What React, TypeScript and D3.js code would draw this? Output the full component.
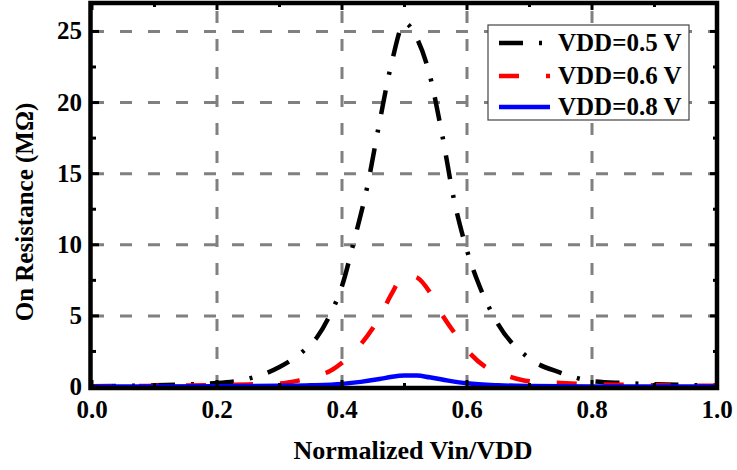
import React, { useEffect, useRef } from 'react';
import * as d3 from 'd3';

// values
const vdd05X = [0, 0.1, 0.2, 0.25, 0.3, 0.34, 0.36, 0.38, 0.4, 0.42, 0.44, 0.46, 0.48, 0.5, 0.52, 0.54, 0.56, 0.58, 0.6, 0.62, 0.65, 0.7, 0.75, 0.8, 0.85, 0.9, 1.0];
const vdd05Y = [0.05, 0.12, 0.28, 0.58, 1.4, 2.6, 3.5, 5.0, 7.1, 10.4, 14.0, 18.6, 22.9, 25.6, 24.5, 22.0, 17.8, 13.0, 9.6, 7.1, 4.4, 2.0, 1.0, 0.42, 0.28, 0.2, 0.1];

const vdd06X = [0, 0.1, 0.2, 0.25, 0.3, 0.33, 0.36, 0.38, 0.4, 0.43, 0.46, 0.48, 0.5, 0.52, 0.54, 0.56, 0.58, 0.6, 0.63, 0.66, 0.7, 0.75, 0.8, 0.9, 1.0];
const vdd06Y = [0.05, 0.08, 0.14, 0.18, 0.25, 0.45, 0.8, 1.1, 1.7, 3.0, 4.9, 6.6, 7.9, 7.7, 6.7, 5.1, 3.8, 2.6, 1.4, 0.85, 0.4, 0.28, 0.2, 0.12, 0.08];

const vdd08X = [0, 0.2, 0.3, 0.35, 0.4, 0.43, 0.46, 0.48, 0.5, 0.52, 0.54, 0.57, 0.6, 0.65, 0.7, 0.8, 1.0];
const vdd08Y = [0.03, 0.05, 0.08, 0.12, 0.22, 0.36, 0.56, 0.72, 0.8, 0.8, 0.68, 0.45, 0.26, 0.12, 0.07, 0.04, 0.03];

const xTicks = [0, 0.2, 0.4, 0.6, 0.8, 1.0];
const yTicks = [0, 5, 10, 15, 20, 25];
const legendLabels = ['VDD=0.5 V', 'VDD=0.6 V', 'VDD=0.8 V'];

const FONT = '"Liberation Serif", "Times New Roman", serif';

const App = () => {
  const chartRef = useRef<SVGSVGElement>(null);

  useEffect(() => {
    document.body.style.margin = '0';
    const width = 737;
    const height = 470;
    const left = 92, right = 717, top = 3, bottom = 387;

    const x = d3.scaleLinear().domain([0, 1]).range([left, right]);
    const y = d3.scaleLinear().domain([0, 27]).range([bottom, top]);

    const svg = d3.select(chartRef.current);
    svg.selectAll('*').remove();
    svg.attr('width', width).attr('height', height);

    svg.append('rect').attr('width', width).attr('height', height).attr('fill', 'white');

    // grid
    const grid = svg.append('g')
      .attr('stroke', '#808080')
      .attr('stroke-width', 3)
      .attr('stroke-dasharray', '12,16');
    xTicks.slice(1, -1).forEach(t => {
      grid.append('line').attr('x1', x(t)).attr('x2', x(t)).attr('y1', bottom).attr('y2', top);
    });
    yTicks.slice(1).forEach(t => {
      grid.append('line').attr('x1', left).attr('x2', right).attr('y1', y(t)).attr('y2', y(t));
    });

    // curves
    const line = d3.line<[number, number]>()
      .x(d => x(d[0]))
      .y(d => y(d[1]))
      .curve(d3.curveMonotoneX);

    const series = [
      { xs: vdd05X, ys: vdd05Y, color: '#000000', dash: '24,16,3,16', w: 4.5 },
      { xs: vdd06X, ys: vdd06Y, color: '#ff0000', dash: '20,27', w: 4.5 },
      { xs: vdd08X, ys: vdd08Y, color: '#0000ff', dash: null, w: 4.5 },
    ];
    series.forEach(s => {
      const pts = s.xs.map((v, i) => [v, s.ys[i]] as [number, number]);
      svg.append('path')
        .attr('d', line(pts))
        .attr('fill', 'none')
        .attr('stroke', s.color)
        .attr('stroke-width', s.w)
        .attr('stroke-dasharray', s.dash);
    });

    // ticks (inward, all sides)
    const ticks = svg.append('g').attr('stroke', 'black').attr('stroke-width', 3);
    d3.range(0, 1.0001, 0.1).forEach((t, i) => {
      const len = i % 2 === 0 ? 7 : 4;
      ticks.append('line').attr('x1', x(t)).attr('x2', x(t)).attr('y1', bottom).attr('y2', bottom - len);
      ticks.append('line').attr('x1', x(t)).attr('x2', x(t)).attr('y1', top).attr('y2', top + len);
    });
    d3.range(0, 27, 2.5).forEach((t, i) => {
      const len = i % 2 === 0 ? 7 : 4;
      ticks.append('line').attr('x1', left).attr('x2', left + len).attr('y1', y(t)).attr('y2', y(t));
      ticks.append('line').attr('x1', right).attr('x2', right - len).attr('y1', y(t)).attr('y2', y(t));
    });

    // frame
    svg.append('rect')
      .attr('x', left - 1.5).attr('y', top)
      .attr('width', right - left + 1.5).attr('height', bottom - top + 1)
      .attr('fill', 'none')
      .attr('stroke', 'black')
      .attr('stroke-width', 4.5);

    // tick labels
    const labels = svg.append('g')
      .attr('font-family', FONT)
      .attr('font-weight', 'bold')
      .attr('font-size', 25)
      .attr('fill', 'black');
    xTicks.forEach(t => {
      labels.append('text')
        .attr('x', x(t)).attr('y', 418)
        .attr('text-anchor', 'middle')
        .text(d3.format('.1f')(t));
    });
    yTicks.forEach(t => {
      labels.append('text')
        .attr('x', 82).attr('y', y(t) + 8)
        .attr('text-anchor', 'end')
        .text(t);
    });

    // axis titles
    labels.append('text')
      .attr('x', 413).attr('y', 459)
      .attr('text-anchor', 'middle')
      .attr('font-size', 26)
      .text('Normalized Vin/VDD');
    labels.append('text')
      .attr('transform', `translate(33,212) rotate(-90)`)
      .attr('text-anchor', 'middle')
      .text('On Resistance (MΩ)');

    // legend
    const legend = svg.append('g');
    legend.append('rect')
      .attr('x', 488).attr('y', 25)
      .attr('width', 201).attr('height', 95)
      .attr('fill', 'white')
      .attr('stroke', '#444')
      .attr('stroke-width', 1.2);
    const rows = [43, 76, 107];
    series.forEach((s, i) => {
      legend.append('line')
        .attr('x1', 499).attr('x2', 550)
        .attr('y1', rows[i]).attr('y2', rows[i])
        .attr('stroke', s.color)
        .attr('stroke-width', s.w)
        .attr('stroke-dasharray', s.dash);
      legend.append('text')
        .attr('x', 558).attr('y', rows[i] + 8)
        .attr('font-family', FONT)
        .attr('font-weight', 'bold')
        .attr('font-size', 25)
        .text(legendLabels[i]);
    });
  }, []);

  return <svg ref={chartRef} style={{ display: 'block' }}></svg>;
};

export default App;
